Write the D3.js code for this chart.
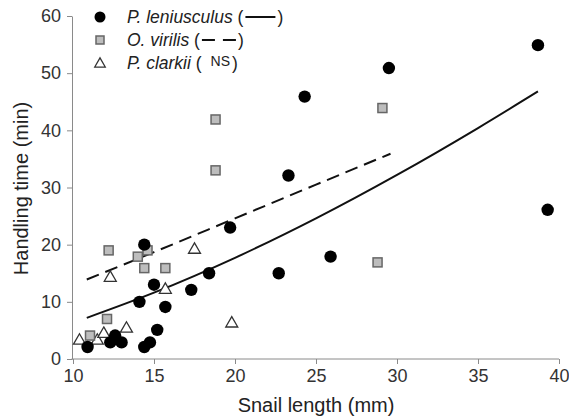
<!DOCTYPE html>
<html>
<head>
<meta charset="utf-8">
<script src="https://cdn.jsdelivr.net/npm/d3@7"></script>
<style>
  body { margin: 0; background: #fff; }
  text { font-family: "Liberation Sans", Arial, sans-serif; }
</style>
</head>
<body>
<div id="my_dataviz"></div>
<script>
// P. leniusculus (black circles)
const lenX = [10.9, 12.3, 12.6, 13.0, 14.1, 14.4, 14.4, 14.75, 15.0, 15.2, 15.7, 17.3, 18.4, 19.7, 22.7, 23.3, 24.3, 25.9, 29.5, 38.7, 39.3]
const lenY = [2.1, 2.9, 4.1, 2.9, 10.0, 20.0, 2.1, 2.9, 13.0, 5.1, 9.1, 12.1, 15.0, 23.0, 15.0, 32.1, 45.9, 17.9, 50.9, 54.9, 26.1]
// O. virilis (grey squares)
const virX = [11.05, 12.1, 12.2, 14.0, 14.4, 14.6, 15.7, 18.8, 18.8, 28.8, 29.1]
const virY = [4.1, 7.0, 19.0, 17.9, 15.9, 19.0, 15.9, 41.9, 33.0, 16.9, 43.9]
// P. clarkii (open triangles)
const claX = [10.4, 11.5, 11.9, 12.3, 13.3, 15.7, 17.5, 19.8]
const claY = [3.2, 3.2, 4.4, 14.2, 5.3, 12.1, 19.1, 6.2]
// fitted curves
const fitLenX = [10.85, 15, 20, 25, 30, 35, 38.7]
const fitLenY = [7.2, 11.6, 17.7, 24.6, 32.2, 40.4, 46.8]
const fitVirX = [10.85, 15, 20, 25, 29.6]
const fitVirY = [13.9, 18.7, 24.6, 30.5, 35.9]

const xTicks = [10, 15, 20, 25, 30, 35, 40]
const yTicks = [0, 10, 20, 30, 40, 50, 60]

const W = 569, H = 420
const margin = {top: 16, right: 10, bottom: 61, left: 73}
const width = W - margin.left - margin.right
const height = H - margin.top - margin.bottom

const svg = d3.select("#my_dataviz")
  .append("svg")
    .attr("width", W)
    .attr("height", H)

const g = svg.append("g")
    .attr("transform", `translate(${margin.left},${margin.top})`)

const x = d3.scaleLinear().domain([10, 40]).range([0, 486])
const y = d3.scaleLinear().domain([0, 60]).range([height, 0])

const axisColor = "#8a8a8a"

// x axis
const xAxis = g.append("g")
    .attr("transform", `translate(0,${height})`)
    .call(d3.axisBottom(x).tickValues(xTicks).tickSize(5).tickPadding(5).tickSizeOuter(0))
xAxis.select(".domain").attr("stroke", axisColor).attr("d", `M-1.5,0H${x(40)}`)
xAxis.selectAll(".tick line").attr("stroke", axisColor)
xAxis.selectAll("text").attr("fill", "#333").style("font-size", "18px")

// y axis
const yAxis = g.append("g")
    .attr("transform", "translate(-1,0)")
    .call(d3.axisLeft(y).tickValues(yTicks).tickSize(5).tickPadding(6).tickSizeOuter(0))
yAxis.select(".domain").attr("stroke", axisColor)
yAxis.selectAll(".tick line").attr("stroke", axisColor)
yAxis.selectAll("text").attr("fill", "#333").style("font-size", "18px")

// axis titles
svg.append("text")
    .attr("x", margin.left + x(25))
    .attr("y", 412)
    .attr("text-anchor", "middle")
    .attr("fill", "#222")
    .style("font-size", "20px")
    .text("Snail length (mm)")

svg.append("text")
    .attr("transform", `translate(28,${margin.top + y(30) + 1}) rotate(-90)`)
    .attr("text-anchor", "middle")
    .attr("fill", "#222")
    .style("font-size", "20px")
    .text("Handling time (min)")

// fitted lines
const line = d3.line().x(d => x(d[0])).y(d => y(d[1])).curve(d3.curveMonotoneX)
g.append("path")
    .datum(d3.zip(fitLenX, fitLenY))
    .attr("d", line)
    .attr("fill", "none")
    .attr("stroke", "#111")
    .attr("stroke-width", 2)
g.append("path")
    .datum(d3.zip(fitVirX, fitVirY))
    .attr("d", line)
    .attr("fill", "none")
    .attr("stroke", "#111")
    .attr("stroke-width", 2)
    .attr("stroke-dasharray", "13,7")

// markers
const tri = d3.symbol().type(d3.symbolTriangle).size(62)

g.append("g").selectAll("path")
  .data(d3.zip(claX, claY))
  .join("path")
    .attr("d", tri)
    .attr("transform", d => `translate(${x(d[0])},${y(d[1])})`)
    .attr("fill", "#fff")
    .attr("stroke", "#333")
    .attr("stroke-width", 1.3)

g.append("g").selectAll("rect")
  .data(d3.zip(virX, virY))
  .join("rect")
    .attr("x", d => x(d[0]) - 4.5)
    .attr("y", d => y(d[1]) - 4.5)
    .attr("width", 9)
    .attr("height", 9)
    .attr("fill", "#bdbdbd")
    .attr("stroke", "#666")
    .attr("stroke-width", 1.5)

g.append("g").selectAll("circle")
  .data(d3.zip(lenX, lenY))
  .join("circle")
    .attr("cx", d => x(d[0]))
    .attr("cy", d => y(d[1]))
    .attr("r", 6.2)
    .attr("fill", "#000")

// legend
const legend = svg.append("g").attr("transform", "translate(100,17)")
const rows = [
  {name: "P. leniusculus", kind: "solid"},
  {name: "O. virilis", kind: "dashed"},
  {name: "P. clarkii", kind: "ns"}
]
rows.forEach((r, i) => {
  const row = legend.append("g").attr("transform", `translate(0,${i * 23})`)
  if (i === 0) row.append("circle").attr("r", 5.5).attr("fill", "#000")
  if (i === 1) row.append("rect").attr("x", -4).attr("y", -4).attr("width", 8).attr("height", 8)
      .attr("fill", "#bdbdbd").attr("stroke", "#666").attr("stroke-width", 1.5)
  if (i === 2) row.append("path").attr("d", d3.symbol().type(d3.symbolTriangle).size(48)).attr("transform", "translate(0,1)")
      .attr("fill", "#fff").attr("stroke", "#333").attr("stroke-width", 1.3)

  const t = row.append("text")
      .attr("x", 27)
      .attr("y", 6)
      .attr("fill", "#222")
      .style("font-size", "17.5px")
  t.append("tspan").style("font-style", "italic").text(r.name)
  t.append("tspan").text(" (")
  let end = 27 + t.node().getComputedTextLength()
  if (r.kind === "solid") {
    row.append("line").attr("x1", end + 2).attr("x2", end + 32).attr("y1", 0).attr("y2", 0)
      .attr("stroke", "#111").attr("stroke-width", 2)
    end += 34
  } else if (r.kind === "dashed") {
    row.append("line").attr("x1", end + 2).attr("x2", end + 36).attr("y1", 0).attr("y2", 0)
      .attr("stroke", "#111").attr("stroke-width", 2).attr("stroke-dasharray", "13,8")
    end += 38
  } else {
    const ns = row.append("text").attr("x", end + 9).attr("y", 3)
      .attr("fill", "#222").style("font-size", "14px").text("NS")
    end += 9 + ns.node().getComputedTextLength() + 2
  }
  row.append("text").attr("x", end).attr("y", 6).attr("fill", "#222")
    .style("font-size", "17.5px").text(")")
})
</script>
</body>
</html>
